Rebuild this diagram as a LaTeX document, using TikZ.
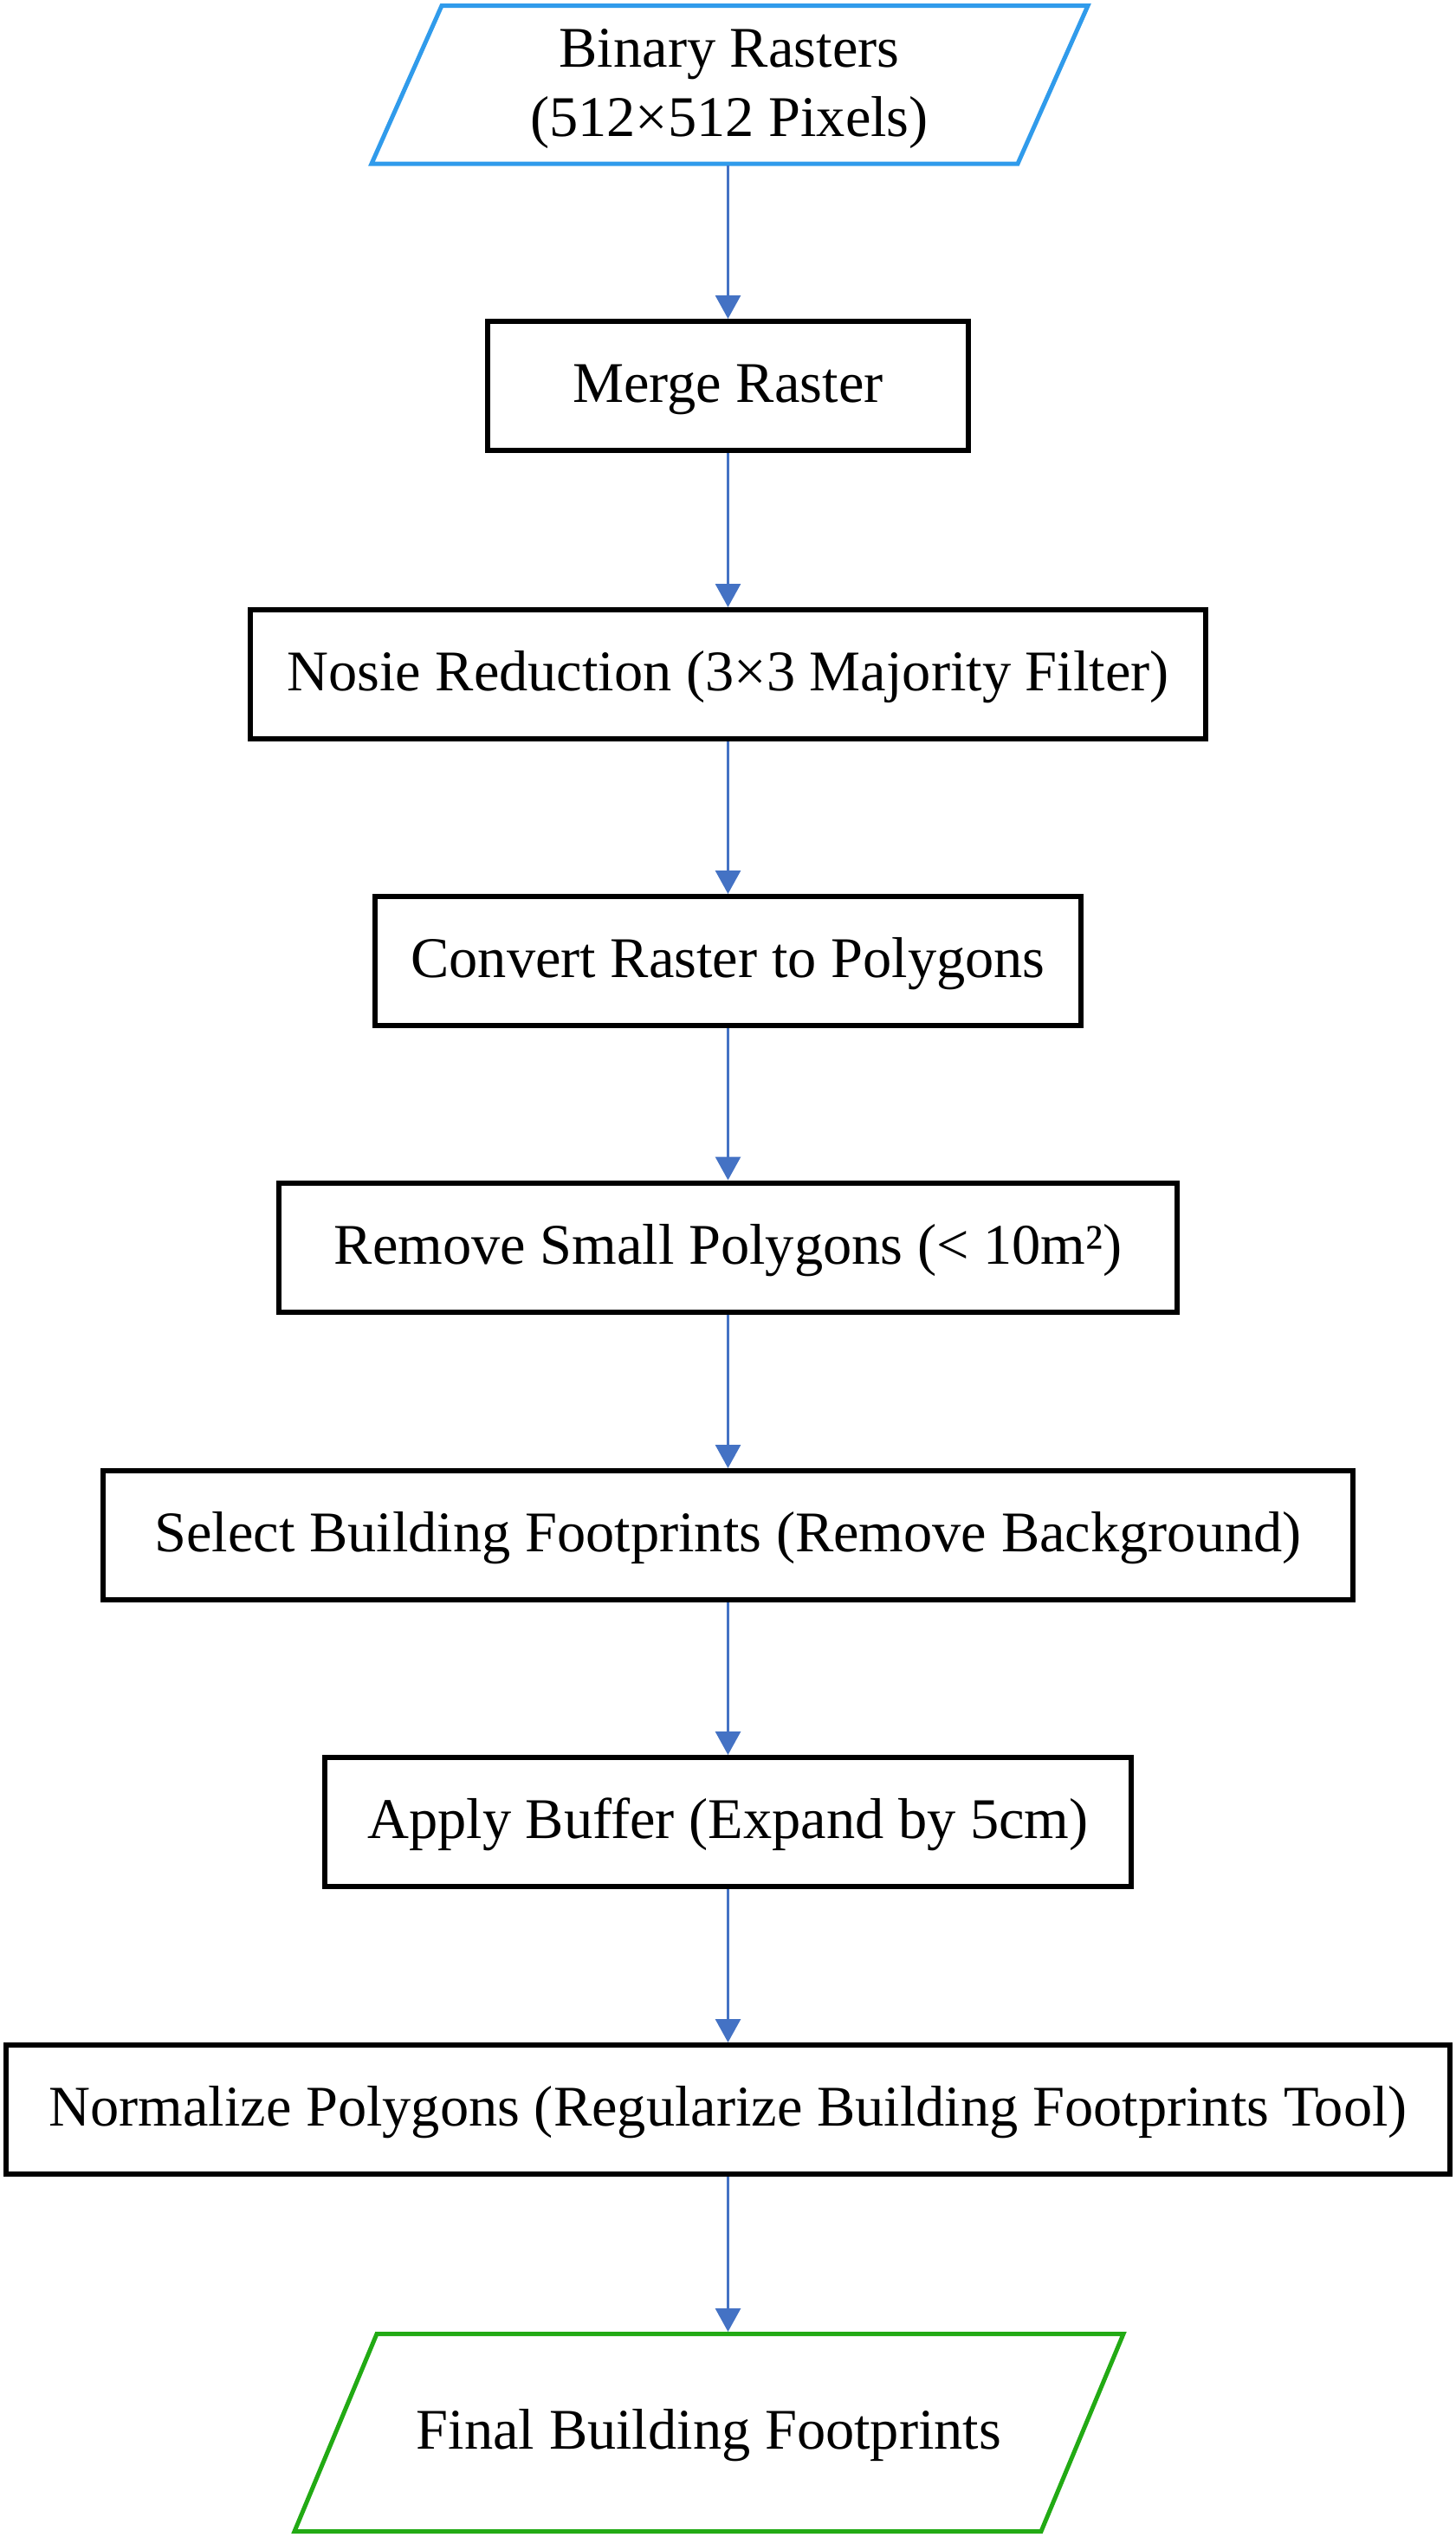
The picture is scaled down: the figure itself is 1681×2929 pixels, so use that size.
\documentclass[tikz,border=0pt]{standalone}
\usepackage{fontspec}
\setmainfont{Liberation Serif}
\usetikzlibrary{arrows.meta}
\definecolor{parablue}{RGB}{48,155,235}
\definecolor{paragreen}{RGB}{34,170,20}
\definecolor{arrowblue}{RGB}{68,114,196}
\begin{document}
\begin{tikzpicture}[x=0.5pt,y=-0.5pt,
  txt/.style={font=\fontsize{33.2pt}{40pt}\selectfont, align=center, inner sep=0pt},
  oneline/.style={text height=26.3pt, text depth=7.3pt},
  stepbox/.style={txt, oneline, draw=black, line width=3pt, minimum height=74.5pt},
  iobox/.style={txt, outer sep=1.25pt},
  paraline/.style={line width=2.5pt, line join=miter},
  flow/.style={draw=arrowblue, line width=1.5pt, -{Triangle[length=13.5pt,width=14.5pt]}}]
\useasboundingbox (0,0) rectangle (1681,2929);
\fill[white] (0,0) rectangle (1681,2929);
% input parallelogram
\draw[paraline, draw=parablue] (429,189) -- (510,6.5) -- (1256,6.5) -- (1175,189) -- cycle;
\node[iobox, minimum width=413.5pt, minimum height=91pt] (in) at (842,97.5) {\rule{0pt}{27pt}Binary Rasters\\(512×512 Pixels)};
\node[stepbox, minimum width=277.5pt] (merge) at (840.5,445.5) {Merge Raster};
\node[stepbox, minimum width=551.5pt] (noise) at (840.5,778.5) {Nosie Reduction (3×3 Majority Filter)};
\node[stepbox, minimum width=407.5pt] (conv) at (840.5,1109.5) {Convert Raster to Polygons};
\node[stepbox, minimum width=518.5pt] (rem) at (840.5,1440) {Remove Small Polygons (< 10m²)};
\node[stepbox, minimum width=721.5pt] (sel) at (840.5,1772.5) {Select Building Footprints (Remove Background)};
\node[stepbox, minimum width=465.5pt] (buf) at (840.5,2103.5) {Apply Buffer (Expand by 5cm)};
\node[stepbox, minimum width=833.5pt] (norm) at (840.5,2435.5) {Normalize Polygons (Regularize Building Footprints Tool)};
% output parallelogram
\draw[paraline, draw=paragreen] (340,2922.5) -- (435,2694.5) -- (1297,2694.5) -- (1202,2922.5) -- cycle;
\node[iobox, oneline, minimum width=479pt, minimum height=114pt] (out) at (818.5,2808.5) {Final Building Footprints};
\draw[flow] (in.south -| merge.north) -- (merge.north);
\draw[flow] (merge) -- (noise);
\draw[flow] (noise) -- (conv);
\draw[flow] (conv) -- (rem);
\draw[flow] (rem) -- (sel);
\draw[flow] (sel) -- (buf);
\draw[flow] (buf) -- (norm);
\draw[flow] (norm.south) -- (norm.south |- out.north);
\end{tikzpicture}
\end{document}
